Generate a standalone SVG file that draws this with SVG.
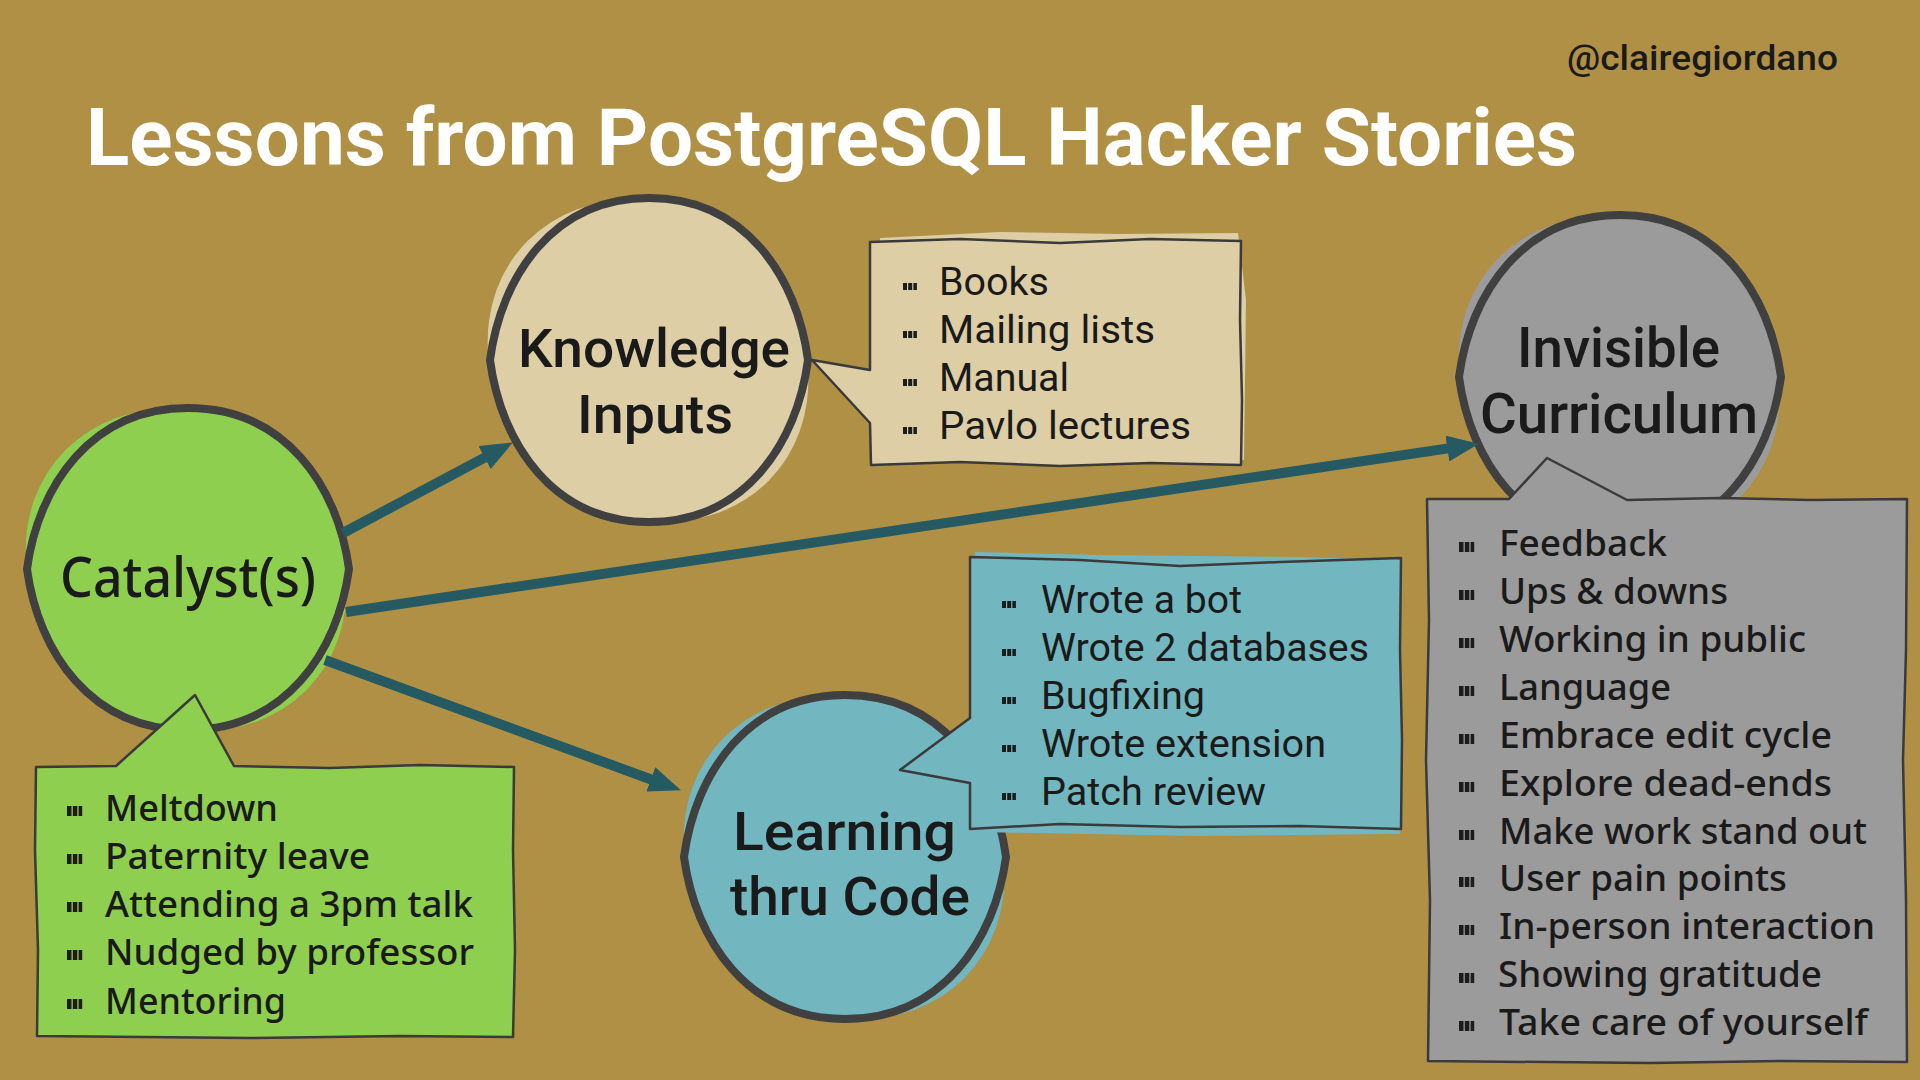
<svg xmlns="http://www.w3.org/2000/svg" xmlns:xlink="http://www.w3.org/1999/xlink" width="1920" height="1080" viewBox="0 0 1920 1080">
<style>
.bg{fill:#B09045}
.ring{stroke:#404040;stroke-width:8;stroke-linejoin:round}
.box{stroke:#3a3a3a;stroke-width:2.5;stroke-linejoin:round}
.green{fill:#8FCF50}
.beige{fill:#DDCEA6}
.teal{fill:#72B6C0}
.gray{fill:#9B9B9B}
.lbl{fill:#1a1a1a}
.nun{font-family:"Noto Sans","Open Sans",sans-serif;font-weight:500}
.din{font-family:Roboto,"Liberation Sans",sans-serif;font-weight:500}
.dinl{font-family:Roboto,"Liberation Sans",sans-serif;font-weight:400}
.conn{stroke:#255A62;stroke-width:10;fill:none}
</style>
<defs>
<g id="bn" fill="#1c1c1c"><rect x="0" y="0" width="4.5" height="10"/><rect x="5.8" y="0" width="4.5" height="10"/><rect x="11.6" y="0" width="3.6" height="10"/></g>
<g id="bd" fill="#1c1c1c"><rect x="0" y="0" width="4" height="7"/><rect x="5.2" y="0" width="4" height="7"/><rect x="10.4" y="0" width="3.5" height="7"/></g>
<marker id="ah" markerUnits="userSpaceOnUse" markerWidth="32" markerHeight="26" viewBox="0 0 32 26" refX="1" refY="13" orient="auto">
<path d="M0,0 L32,13 L0,26 Z" fill="#255A62"/>
</marker>
</defs>
<rect class="bg" x="0" y="0" width="1920" height="1080"/>
<g id="header">
<text x="86" y="165" font-family="Roboto,'Liberation Sans',sans-serif" font-weight="700" font-size="80" fill="#ffffff" textLength="1491" lengthAdjust="spacingAndGlyphs">Lessons from PostgreSQL Hacker Stories</text>
<text x="1567" y="70" font-family="Roboto,'Liberation Sans',sans-serif" font-weight="500" font-size="35" fill="#1a1a1a" textLength="271" lengthAdjust="spacingAndGlyphs">@clairegiordano</text>
</g>
<g id="catalyst">
<ellipse class="green" cx="186" cy="570" rx="170" ry="150" transform="rotate(45 186 570)"/>
<path class="ring green" d="M27,569 C38.3,485.3 91.4,408 188,408 C284.6,408 337.7,485.3 349,569 C337.7,652.7 284.6,730 188,730 C91.4,730 38.3,652.7 27,569 Z"/>
<text class="lbl nun" x="60" y="597" font-size="56" font-weight="600" textLength="256" lengthAdjust="spacingAndGlyphs">Catalyst(s)</text>
<path class="box green" d="M36,767 L116,766 L195,695 L234,766 L330,768 L420,765 L514,767 L513,850 L515,950 L513,1037 L400,1036 L250,1038 L37,1036 L38,950 L35,850 Z"/>
<g class="lbl nun" font-size="36">
<use href="#bn" x="67" y="806"/><text x="105" y="821" textLength="173" lengthAdjust="spacingAndGlyphs">Meltdown</text>
<use href="#bn" x="67" y="854"/><text x="105" y="869" textLength="265" lengthAdjust="spacingAndGlyphs">Paternity leave</text>
<use href="#bn" x="67" y="902"/><text x="105" y="917" textLength="368" lengthAdjust="spacingAndGlyphs">Attending a 3pm talk</text>
<use href="#bn" x="67" y="950"/><text x="105" y="965" textLength="369" lengthAdjust="spacingAndGlyphs">Nudged by professor</text>
<use href="#bn" x="67" y="999"/><text x="105" y="1014" textLength="181" lengthAdjust="spacingAndGlyphs">Mentoring</text>
</g>
</g>
<g id="knowledge">
<ellipse class="beige" cx="648" cy="361" rx="170" ry="150" transform="rotate(45 648 361)"/>
<path class="ring beige" d="M490,360 C501.1,275.8 553.6,198 649,198 C744.4,198 796.9,275.8 808,360 C796.9,444.2 744.4,522 649,522 C553.6,522 501.1,444.2 490,360 Z"/>
<text class="lbl din" x="518" y="367" font-size="54" textLength="272" lengthAdjust="spacingAndGlyphs">Knowledge</text>
<text class="lbl din" x="577" y="433" font-size="54" textLength="156" lengthAdjust="spacingAndGlyphs">Inputs</text>
<path class="beige" d="M880,238 L1000,232 L1120,234 L1238,233 L1246,300 L1244,460 L880,462 Z"/>
<path class="box beige" d="M870,242 L960,239 L1060,243 L1150,239 L1241,241 L1240,320 L1242,400 L1241,465 L1150,463 L1060,466 L960,462 L871,465 L870,423 L812,360 L870,370 Z"/>
<g class="lbl dinl" font-size="39">
<use href="#bd" x="903" y="283"/><text x="939" y="295" textLength="110" lengthAdjust="spacingAndGlyphs">Books</text>
<use href="#bd" x="903" y="331"/><text x="939" y="343" textLength="216" lengthAdjust="spacingAndGlyphs">Mailing lists</text>
<use href="#bd" x="903" y="379"/><text x="939" y="391" textLength="130" lengthAdjust="spacingAndGlyphs">Manual</text>
<use href="#bd" x="903" y="427"/><text x="939" y="439" textLength="252" lengthAdjust="spacingAndGlyphs">Pavlo lectures</text>
</g>
</g>
<g id="learning">
<ellipse class="teal" cx="844" cy="858" rx="170" ry="150" transform="rotate(45 844 858)"/>
<path class="ring teal" d="M684,857 C695.3,772.8 748.4,695 845,695 C941.6,695 994.7,772.8 1006,857 C994.7,941.2 941.6,1019 845,1019 C748.4,1019 695.3,941.2 684,857 Z"/>
<path class="teal" d="M975,552 L1100,555 L1300,557 L1398,560 L1400,834 L1200,836 L975,832 Z"/>
<path class="box teal" d="M970,557 L1080,560 L1180,566 L1280,562 L1401,558 L1400,650 L1402,740 L1401,829 L1300,826 L1180,827 L1060,824 L970,829 L970,783 L900,770 L970,718 Z"/>
<text class="lbl din" x="733" y="850" font-size="54" textLength="223" lengthAdjust="spacingAndGlyphs">Learning</text>
<text class="lbl din" x="730" y="915" font-size="54" textLength="240" lengthAdjust="spacingAndGlyphs">thru Code</text>
<g class="lbl dinl" font-size="38">
<use href="#bd" x="1002" y="601"/><text x="1041" y="613" textLength="201" lengthAdjust="spacingAndGlyphs">Wrote a bot</text>
<use href="#bd" x="1002" y="649"/><text x="1041" y="661" textLength="328" lengthAdjust="spacingAndGlyphs">Wrote 2 databases</text>
<use href="#bd" x="1002" y="697"/><text x="1041" y="709" textLength="164" lengthAdjust="spacingAndGlyphs">Bugfixing</text>
<use href="#bd" x="1002" y="745"/><text x="1041" y="757" textLength="285" lengthAdjust="spacingAndGlyphs">Wrote extension</text>
<use href="#bd" x="1002" y="793"/><text x="1041" y="805" textLength="225" lengthAdjust="spacingAndGlyphs">Patch review</text>
</g>
</g>
<g id="invisible">
<ellipse class="gray" cx="1619" cy="378" rx="170" ry="150" transform="rotate(45 1619 378)"/>
<path class="ring gray" d="M1459,377 C1470.3,292.8 1523.4,215 1620,215 C1716.6,215 1769.7,292.8 1781,377 C1769.7,461.2 1716.6,539 1620,539 C1523.4,539 1470.3,461.2 1459,377 Z"/>
<text class="lbl din" x="1517" y="367" font-size="55" textLength="203" lengthAdjust="spacingAndGlyphs">Invisible</text>
<text class="lbl din" x="1480" y="433" font-size="55" textLength="278" lengthAdjust="spacingAndGlyphs">Curriculum</text>
<path class="box gray" d="M1427,499 L1509,499 L1547,458 L1627,500 L1720,498 L1810,500 L1907,499 L1906,650 L1903,760 L1906,900 L1907,1062 L1780,1061 L1650,1063 L1428,1061 L1430,900 L1426,760 L1429,620 Z"/>
<g class="lbl nun" font-size="37">
<use href="#bn" x="1459" y="542"/><text x="1499" y="556" textLength="168" lengthAdjust="spacingAndGlyphs">Feedback</text>
<use href="#bn" x="1459" y="590"/><text x="1499" y="604" textLength="229" lengthAdjust="spacingAndGlyphs">Ups &amp; downs</text>
<use href="#bn" x="1459" y="638"/><text x="1499" y="652" textLength="307" lengthAdjust="spacingAndGlyphs">Working in public</text>
<use href="#bn" x="1459" y="686"/><text x="1499" y="700" textLength="172" lengthAdjust="spacingAndGlyphs">Language</text>
<use href="#bn" x="1459" y="734"/><text x="1499" y="748" textLength="333" lengthAdjust="spacingAndGlyphs">Embrace edit cycle</text>
<use href="#bn" x="1459" y="782"/><text x="1499" y="796" textLength="333" lengthAdjust="spacingAndGlyphs">Explore dead-ends</text>
<use href="#bn" x="1459" y="830"/><text x="1499" y="844" textLength="368" lengthAdjust="spacingAndGlyphs">Make work stand out</text>
<use href="#bn" x="1459" y="877"/><text x="1499" y="891" textLength="288" lengthAdjust="spacingAndGlyphs">User pain points</text>
<use href="#bn" x="1459" y="925"/><text x="1499" y="939" textLength="376" lengthAdjust="spacingAndGlyphs">In-person interaction</text>
<use href="#bn" x="1459" y="973"/><text x="1498" y="987" textLength="324" lengthAdjust="spacingAndGlyphs">Showing gratitude</text>
<use href="#bn" x="1459" y="1021"/><text x="1499" y="1035" textLength="369" lengthAdjust="spacingAndGlyphs">Take care of yourself</text>
</g>
</g>
<g id="connectors">
<line class="conn" x1="343" y1="533" x2="485.5" y2="457.1" marker-end="url(#ah)"/>
<line class="conn" x1="346" y1="612" x2="1448.3" y2="448.4" marker-end="url(#ah)"/>
<line class="conn" x1="325" y1="660" x2="651.8" y2="779.7" marker-end="url(#ah)"/>
</g>
</svg>
